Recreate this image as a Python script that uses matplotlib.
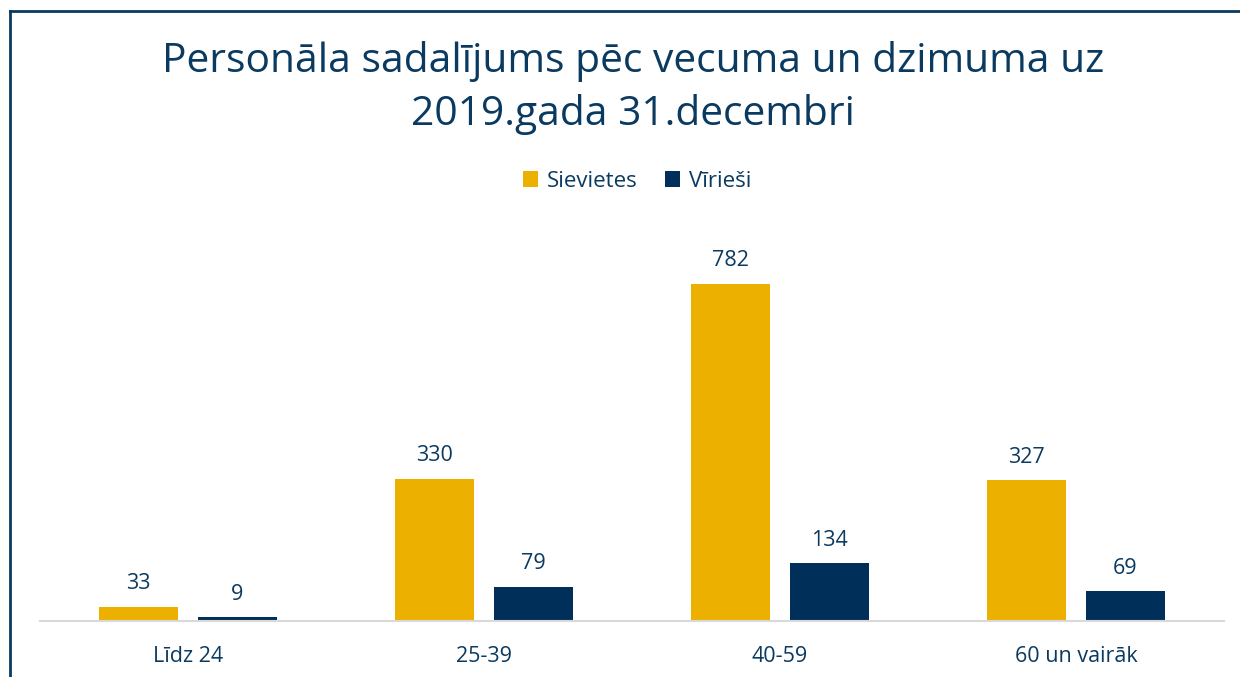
import numpy as np
import matplotlib
matplotlib.use("Agg")
import matplotlib.pyplot as plt
from matplotlib.lines import Line2D

plt.rcParams['font.family'] = ['Open Sans', 'DejaVu Sans']

categories = ['Līdz 24', '25-39', '40-59', '60 un vairāk']
sievietes = [33, 330, 782, 327]
virviesi = [9, 79, 134, 69]
series_names = ['Sievietes', 'Vīrieši']
title = 'Personāla sadalījums pēc vecuma un dzimuma uz\n2019.gada 31.decembri'

yellow = '#EBB000'
navy = '#00305A'
txt = '#0B3A60'

W, H = 1240, 677
fig = plt.figure(figsize=(W / 100, H / 100), dpi=100)

# axes: x 40..1224 px, baseline at y=621
ax_top = 230
ax = fig.add_axes([40 / W, 1 - 621 / H, 1184 / W, (621 - ax_top) / H])

x = np.arange(len(categories))
w = 0.264
off = 0.167
b1 = ax.bar(x - off, sievietes, w, color=yellow, label=series_names[0])
b2 = ax.bar(x + off, virviesi, w, color=navy, label=series_names[1])

ax.set_xlim(-0.5, len(categories) - 0.5)
ax.set_ylim(0, 782 * (621 - ax_top) / 337)

for bars in (b1, b2):
    ax.bar_label(bars, padding=9, fontsize=15.5, color=txt)

ax.set_yticks([])
ax.set_xticks(x)
ax.set_xticklabels(categories, fontsize=15.5, color=txt)
ax.tick_params(axis='x', length=0, pad=18)
for s in ['top', 'right', 'left']:
    ax.spines[s].set_visible(False)
ax.spines['bottom'].set_color('#D9D9D9')
ax.spines['bottom'].set_linewidth(1.5)

fig.text(633 / W, 1 - 88 / H, title, ha='center', va='center',
         fontsize=29.3, color=txt, linespacing=1.38)

fig.legend(handles=[b1, b2], labels=series_names, loc='center',
           bbox_to_anchor=(637 / W, 1 - 181 / H), ncol=2, frameon=False,
           fontsize=16, labelcolor=txt, handlelength=0.7, handleheight=0.7,
           handletextpad=0.4, columnspacing=1.2)

# outer frame (cut at right and bottom)
fig.add_artist(Line2D([10 / W, 10 / W], [1 - 11 / H, 0], transform=fig.transFigure,
                      color='#0B3A60', linewidth=2))
fig.add_artist(Line2D([10 / W, 1], [1 - 11 / H, 1 - 11 / H], transform=fig.transFigure,
                      color='#0B3A60', linewidth=2))

fig.savefig('out.png', dpi=100)
